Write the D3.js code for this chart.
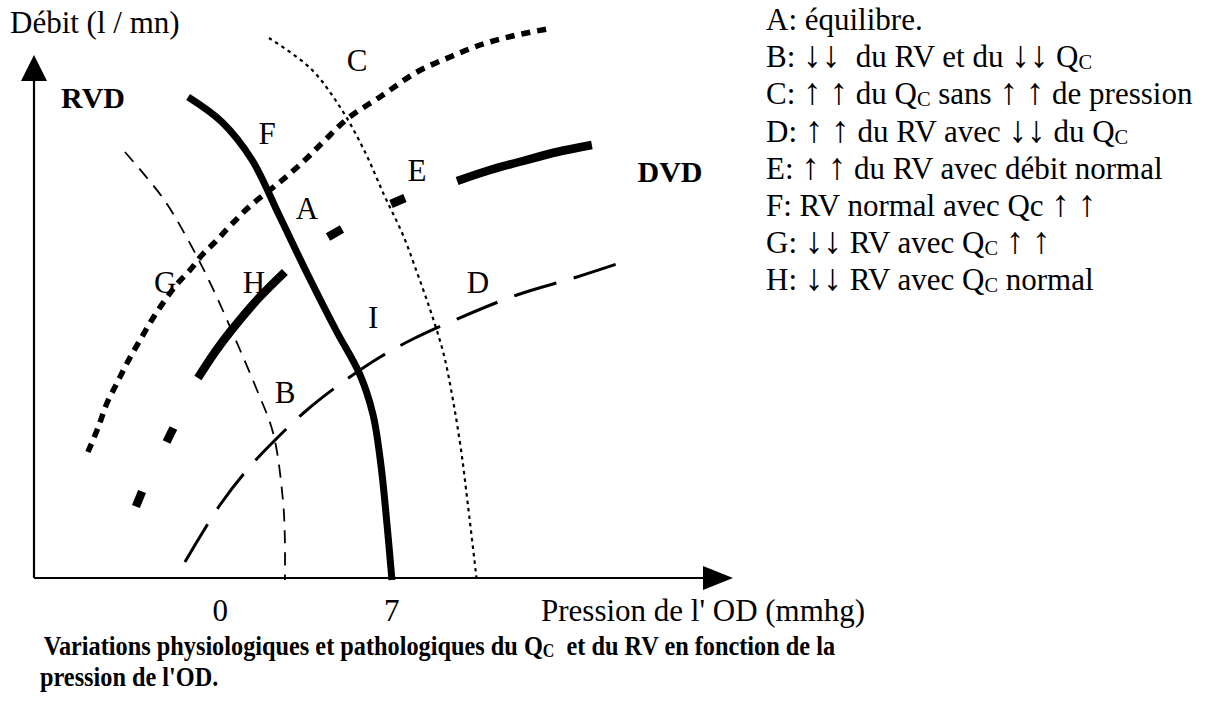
<!DOCTYPE html>
<html>
<head>
<meta charset="utf-8">
<script src="https://cdn.jsdelivr.net/npm/d3@7"></script>
<style>
  body { margin: 0; background: #fff; }
  svg text { font-family: "Liberation Serif", "Times New Roman", serif; fill: #000; white-space: pre; }
</style>
</head>
<body>
<div id="chart"></div>
<script>
// courbes de retour veineux / fonction cardiaque : x = pression OD (mmHg), y = débit (l/mn)
const xTicks = [0, 7];
const xLabel = "Pression de l' OD (mmhg)";
const yLabel = "Débit (l / mn)";

const courbeNormale = [[-1.31,9.62],[0.07,9.12],[1.30,8.36],[2.40,7.26],[3.58,6.06],[4.72,4.96],[5.71,4.06],[6.24,3.26],[6.56,2.26],[6.81,1.06],[7.01,-0.04]];
const courbeG = [[-5.40,2.52],[-4.99,3.00],[-4.62,3.50],[-4.21,3.90],[-3.80,4.30],[-3.27,4.76],[-2.74,5.20],[-2.25,5.56],[-1.76,5.88],[-1.23,6.16],[-0.74,6.46],[-0.21,6.72],[0.40,7.04],[1.22,7.44],[2.44,7.92],[3.46,8.36],[4.28,8.76],[5.18,9.18],[6.64,9.66],[8.03,10.12],[9.38,10.42],[10.73,10.68],[12.11,10.86],[13.58,11.00]];
const courbeB = [[-3.89,8.52],[-2.34,7.60],[-1.31,6.76],[-0.33,5.82],[0.81,4.56],[1.50,3.76],[2.16,2.90],[2.56,1.56],[2.64,0.76],[2.64,-0.04]];
const courbeC = [[1.99,10.80],[3.67,10.20],[4.89,9.42],[5.87,8.56],[6.69,7.66],[7.46,6.86],[8.07,6.06],[8.64,5.26],[9.13,4.46],[9.50,3.56],[9.83,2.56],[10.11,1.46],[10.48,-0.08]];
const courbeD = [[-1.44,0.32],[-0.01,1.46],[1.09,2.16],[2.24,2.76],[3.54,3.36],[5.01,3.92],[6.53,4.42],[7.87,4.78],[9.67,5.18],[12.11,5.66],[14.56,6.02],[16.44,6.32]];
const courbeH = [[-0.91,4.00],[-0.21,4.52],[0.40,4.92],[1.50,5.56],[2.64,6.12]];
const blocsH = [[[-3.44,1.43],[-3.19,1.73]], [[-2.19,2.72],[-1.91,3.00]]];
const courbeDVD = [[9.67,7.94],[11.01,8.16],[12.36,8.34],[13.75,8.52],[15.17,8.66]];
const blocsDVD = [[[4.40,6.82],[4.97,6.98]], [[6.97,7.48],[7.54,7.60]]];

const lettres = [
  {t:"C", x:5.59, y:10.14}, {t:"F", x:1.91, y:8.68}, {t:"A", x:3.54, y:7.18},
  {t:"E", x:8.03, y:7.94}, {t:"G", x:-2.25, y:5.70}, {t:"H", x:1.38, y:5.70},
  {t:"I", x:6.24, y:5.00}, {t:"D", x:10.52, y:5.70}, {t:"B", x:2.65, y:3.50}
];
const grasLabels = [{t:"RVD", x:-5.19, y:9.4}, {t:"DVD", x:18.36, y:7.92}];

const legende = [
  [["A: équilibre."]],
  [["B: ↓↓  du RV et du ↓↓ Q"], ["C", 1]],
  [["C: ↑ ↑ du Q"], ["C", 1], [" sans ↑ ↑ de pression"]],
  [["D: ↑ ↑ du RV avec ↓↓ du Q"], ["C", 1]],
  [["E: ↑ ↑ du RV avec débit normal"]],
  [["F: RV normal avec Qc ↑ ↑"]],
  [["G: ↓↓ RV avec Q"], ["C", 1], [" ↑ ↑"]],
  [["H: ↓↓ RV avec Q"], ["C", 1], [" normal"]]
];
const titre = [
  [[" Variations physiologiques et pathologiques du Q"], ["C", 1], ["  et du RV en fonction de la"]],
  [["pression de l'OD."]]
];

const W = 1213, H = 704;
const svg = d3.select('#chart').append('svg').attr('width', W).attr('height', H);

const x = d3.scaleLinear().domain([-7.6, 20.93]).range([34, 733]);
const y = d3.scaleLinear().domain([0, 10.46]).range([578, 55]);

const line = d3.line().x(d => x(d[0])).y(d => y(d[1])).curve(d3.curveCatmullRom.alpha(0.5));

// axes
const x0 = x.domain()[0], x1 = x.domain()[1], y1 = y.domain()[1];
svg.append('line').attr('x1', x(x0)).attr('y1', y(0)).attr('x2', x(x1) - 28).attr('y2', y(0))
  .attr('stroke', '#000').attr('stroke-width', 2.2);
svg.append('line').attr('x1', x(x0)).attr('y1', y(0)).attr('x2', x(x0)).attr('y2', y(y1) + 24)
  .attr('stroke', '#000').attr('stroke-width', 2.2);
svg.append('path').attr('d', `M${x(x1)},${y(0)} L${x(x1)-30},${y(0)-12} L${x(x1)-30},${y(0)+12} Z`).attr('fill', '#000');
svg.append('path').attr('d', `M${x(x0)},${y(y1)} L${x(x0)-13},${y(y1)+26} L${x(x0)+13},${y(y1)+26} Z`).attr('fill', '#000');

function courbe(data, w, dash) {
  const p = svg.append('path').attr('d', line(data)).attr('fill', 'none')
    .attr('stroke', '#000').attr('stroke-width', w).attr('stroke-linecap', 'butt');
  if (dash) p.attr('stroke-dasharray', dash);
  return p;
}

courbe(courbeB, 1.8, '13,9');
courbe(courbeC, 2.2, '3.5,4');
courbe(courbeD, 3, '44,18');
courbe(courbeG, 5.5, '9,7');
courbe(courbeNormale, 7);
courbe(courbeH, 8.5);
blocsH.forEach(b => courbe(b, 8.5));
courbe(courbeDVD, 8.5);
blocsDVD.forEach(b => courbe(b, 8.5));

// lettres sur les courbes
svg.selectAll('text.lettre').data(lettres).enter().append('text')
  .attr('x', d => x(d.x)).attr('y', d => y(d.y)).attr('text-anchor', 'middle')
  .attr('font-size', 31).text(d => d.t);
svg.selectAll('text.gras').data(grasLabels).enter().append('text')
  .attr('x', d => x(d.x)).attr('y', d => y(d.y)).attr('text-anchor', 'middle')
  .attr('font-size', 30).attr('font-weight', 'bold').text(d => d.t);

// ticks et titres des axes
svg.selectAll('text.tick').data(xTicks).enter().append('text')
  .attr('x', d => x(d)).attr('y', 621).attr('text-anchor', 'middle').attr('font-size', 31).text(d => d);
svg.append('text').attr('x', 541).attr('y', 621).attr('font-size', 31).text(xLabel);
svg.append('text').attr('x', 10).attr('y', 33).attr('font-size', 31).text(yLabel);

// morceaux de texte : indice C plus petit, flèches un peu plus grandes
function ligne(g, parts, size) {
  let bas = false;
  parts.forEach(p => {
    const morceaux = p[1] ? [p[0]] : p[0].split(/([↑↓])/).filter(s => s.length);
    morceaux.forEach(m => {
      const ts = g.append('tspan').text(m);
      if (p[1]) { ts.attr('font-size', size * 0.66).attr('dy', 2); bas = true; }
      else if (bas) { ts.attr('dy', -2); bas = false; }
      if (/[↑↓]/.test(m)) ts.attr('font-size', size * 1.2);
    });
  });
}

legende.forEach((parts, i) => {
  const t = svg.append('text').attr('x', 766).attr('y', 30 + i * 37.2).attr('font-size', 31);
  ligne(t, parts, 31);
});

titre.forEach((parts, i) => {
  const t = svg.append('text').attr('transform', `translate(${i ? 40 : 38},${655 + i * 31}) scale(0.9,1)`)
    .attr('font-size', 27).attr('font-weight', 'bold');
  ligne(t, parts, 27);
});
</script>
</body>
</html>
